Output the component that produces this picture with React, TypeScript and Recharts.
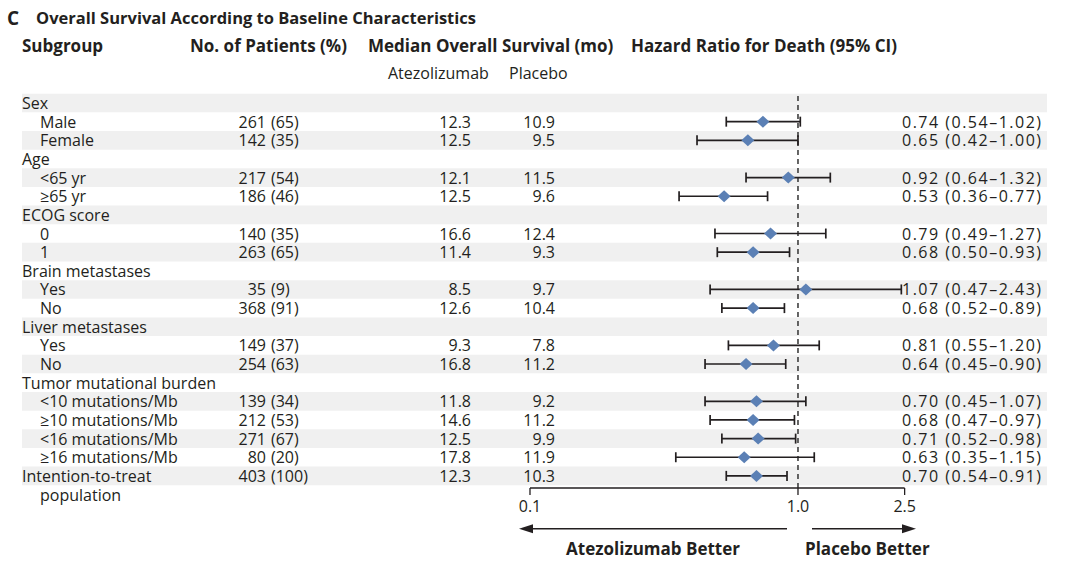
import React from 'react';
import {
  ScatterChart, Scatter, XAxis, YAxis, ErrorBar, ReferenceLine, ReferenceArea
} from 'recharts';

// one entry per row, top to bottom
const ROW_LABELS = [
  'Sex', 'Male', 'Female',
  'Age', '<65 yr', '≥65 yr',
  'ECOG score', '0', '1',
  'Brain metastases', 'Yes', 'No',
  'Liver metastases', 'Yes', 'No',
  'Tumor mutational burden', '<10 mutations/Mb', '≥10 mutations/Mb', '<16 mutations/Mb', '≥16 mutations/Mb',
  'Intention-to-treat',
];
const ROW_LEVEL = [0, 1, 1, 0, 1, 1, 0, 1, 1, 0, 1, 1, 0, 1, 1, 0, 1, 1, 1, 1, 0];
const PATIENTS = [null, 261, 142, null, 217, 186, null, 140, 263, null, 35, 368, null, 149, 254, null, 139, 212, 271, 80, 403];
const PERCENT = [null, 65, 35, null, 54, 46, null, 35, 65, null, 9, 91, null, 37, 63, null, 34, 53, 67, 20, 100];
const MEDIAN_ATEZO = [null, 12.3, 12.5, null, 12.1, 12.5, null, 16.6, 11.4, null, 8.5, 12.6, null, 9.3, 16.8, null, 11.8, 14.6, 12.5, 17.8, 12.3];
const MEDIAN_PLACEBO = [null, 10.9, 9.5, null, 11.5, 9.6, null, 12.4, 9.3, null, 9.7, 10.4, null, 7.8, 11.2, null, 9.2, 11.2, 9.9, 11.9, 10.3];
const HR = [null, 0.74, 0.65, null, 0.92, 0.53, null, 0.79, 0.68, null, 1.07, 0.68, null, 0.81, 0.64, null, 0.70, 0.68, 0.71, 0.63, 0.70];
const HR_LOW = [null, 0.54, 0.42, null, 0.64, 0.36, null, 0.49, 0.50, null, 0.47, 0.52, null, 0.55, 0.45, null, 0.45, 0.47, 0.52, 0.35, 0.54];
const HR_HIGH = [null, 1.02, 1.00, null, 1.32, 0.77, null, 1.27, 0.93, null, 2.43, 0.89, null, 1.20, 0.90, null, 1.07, 0.97, 0.98, 1.15, 0.91];
const X_TICKS = [0.1, 1.0, 2.5];

const INK = '#231f20';
const BAND = '#f0f0f0';
const DIAMOND = '#5b80b5';
const FONT = '"Open Sans", "Noto Sans", sans-serif';

const rowIdx = ROW_LABELS.map((_, i) => i);
const points = rowIdx
  .filter(i => HR[i] != null)
  .map(i => ({
    x: HR[i] as number,
    y: i,
    err: [(HR[i] as number) - (HR_LOW[i] as number), (HR_HIGH[i] as number) - (HR[i] as number)],
  }));

const fmt2 = (v: number) => v.toFixed(2);

const RowTick = (props: any) => {
  const { y, payload } = props;
  const i = payload.value as number;
  const common = { fontFamily: FONT, fontSize: 16, fill: INK, dominantBaseline: 'central' as const };
  return (
    <g>
      <text x={ROW_LEVEL[i] === 0 ? 22 : 40} y={y} {...common}>{ROW_LABELS[i]}</text>
      {i === ROW_LABELS.length - 1 && (
        <text x={40} y={y + 18.65} {...common}>population</text>
      )}
      {PATIENTS[i] != null && (
        <>
          <text x={266} y={y} textAnchor="end" {...common}>{PATIENTS[i]}</text>
          <text x={271} y={y} {...common}>({PERCENT[i]})</text>
        </>
      )}
      {MEDIAN_ATEZO[i] != null && (
        <text x={471} y={y} textAnchor="end" {...common}>{(MEDIAN_ATEZO[i] as number).toFixed(1)}</text>
      )}
      {MEDIAN_PLACEBO[i] != null && (
        <text x={555} y={y} textAnchor="end" {...common}>{(MEDIAN_PLACEBO[i] as number).toFixed(1)}</text>
      )}
      {HR[i] != null && (
        <text x={902} y={y} textLength={139} lengthAdjust="spacing" {...common}>
          {fmt2(HR[i] as number)} ({fmt2(HR_LOW[i] as number)}–{fmt2(HR_HIGH[i] as number)})
        </text>
      )}
    </g>
  );
};

const Diamond = (props: any) => {
  const { cx, cy } = props;
  return (
    <polygon
      points={`${cx - 6.5},${cy} ${cx},${cy - 6} ${cx + 6.5},${cy} ${cx},${cy + 6}`}
      fill={DIAMOND}
    />
  );
};

const Arrow = (props: any) => {
  const { x1, y1, x2, y2 } = props;
  const dir = x2 > x1 ? 1 : -1;
  return (
    <g>
      <line x1={x1} y1={y1} x2={x2 - dir * 10} y2={y2} stroke={INK} strokeWidth={1.5} />
      <polygon points={`${x2},${y2} ${x2 - dir * 14},${y2 - 4.5} ${x2 - dir * 14},${y2 + 4.5}`} fill={INK} />
    </g>
  );
};

const Label: React.FC<{ x: number; y: number; bold?: boolean; size?: number; center?: boolean; children: React.ReactNode }> =
  ({ x, y, bold, size = 17, center, children }) => (
    <div
      style={{
        position: 'absolute', left: x, top: y, whiteSpace: 'nowrap', lineHeight: 1,
        transform: center ? 'translate(-50%, -50%)' : 'translateY(-50%)',
        fontWeight: bold ? 700 : 400, fontSize: size, color: INK, fontFamily: FONT,
      }}
    >
      {children}
    </div>
  );

// arrow shafts in data units (hazard ratio, row)
const ARROW_Y = 22.84;
const LEFT_ARROW = [0.91, 0.091];
const RIGHT_ARROW = [1.128, 2.756];
const AXIS_Y = 20.65;

export default function App() {
  return (
    <div style={{ position: 'absolute', left: 0, top: 0, width: 1070, height: 566, background: '#fff', fontFamily: FONT }}>
      <ScatterChart width={1070} height={566} margin={{ top: 93.7, right: 23, bottom: 0, left: 0 }}>
        {rowIdx.filter(i => i % 2 === 0).map(i => (
          <ReferenceArea key={`band-${i}`} y1={i - 0.5} y2={i + 0.5} fill={BAND} fillOpacity={1} stroke="none" />
        ))}
        <XAxis
          type="number"
          dataKey="x"
          scale="log"
          domain={[0.001272, 8.495]}
          allowDataOverflow
          ticks={X_TICKS}
          tickFormatter={(v: number) => v.toFixed(1)}
          axisLine={false}
          tickLine={{ stroke: INK, strokeWidth: 1.3 }}
          tickSize={7}
          tickMargin={6}
          height={78}
          tick={{ fill: INK, fontSize: 16, fontFamily: FONT }}
        />
        <YAxis
          type="number"
          dataKey="y"
          domain={[-0.5, AXIS_Y]}
          reversed
          allowDataOverflow
          ticks={rowIdx}
          interval={0}
          width={22}
          axisLine={false}
          tickLine={false}
          tick={<RowTick />}
        />
        <ReferenceLine x={1} stroke="#333" strokeWidth={1.5} strokeDasharray="5 4" />
        <ReferenceLine
          segment={[{ x: X_TICKS[0], y: AXIS_Y }, { x: X_TICKS[2], y: AXIS_Y }]}
          stroke={INK}
          strokeWidth={1.3}
          ifOverflow="visible"
        />
        <ReferenceLine
          segment={[{ x: LEFT_ARROW[0], y: ARROW_Y }, { x: LEFT_ARROW[1], y: ARROW_Y }]}
          ifOverflow="visible"
          shape={<Arrow />}
        />
        <ReferenceLine
          segment={[{ x: RIGHT_ARROW[0], y: ARROW_Y }, { x: RIGHT_ARROW[1], y: ARROW_Y }]}
          ifOverflow="visible"
          shape={<Arrow />}
        />
        <Scatter data={points} shape={<Diamond />} isAnimationActive={false}>
          <ErrorBar dataKey="err" direction="x" width={5} stroke={INK} strokeWidth={1.7} isAnimationActive={false} />
        </Scatter>
      </ScatterChart>

      <Label x={7} y={18} bold size={19}>C</Label>
      <Label x={36} y={18} bold size={16.5}>Overall Survival According to Baseline Characteristics</Label>
      <Label x={22} y={45} bold>Subgroup</Label>
      <Label x={190} y={45} bold>No. of Patients (%)</Label>
      <Label x={368} y={45} bold>Median Overall Survival (mo)</Label>
      <Label x={631} y={45} bold>Hazard Ratio for Death (95% CI)</Label>
      <Label x={388} y={73} size={16}>Atezolizumab</Label>
      <Label x={509} y={73} size={16}>Placebo</Label>
      <Label x={653} y={548} bold center>Atezolizumab Better</Label>
      <Label x={805} y={548} bold>Placebo Better</Label>
    </div>
  );
}
